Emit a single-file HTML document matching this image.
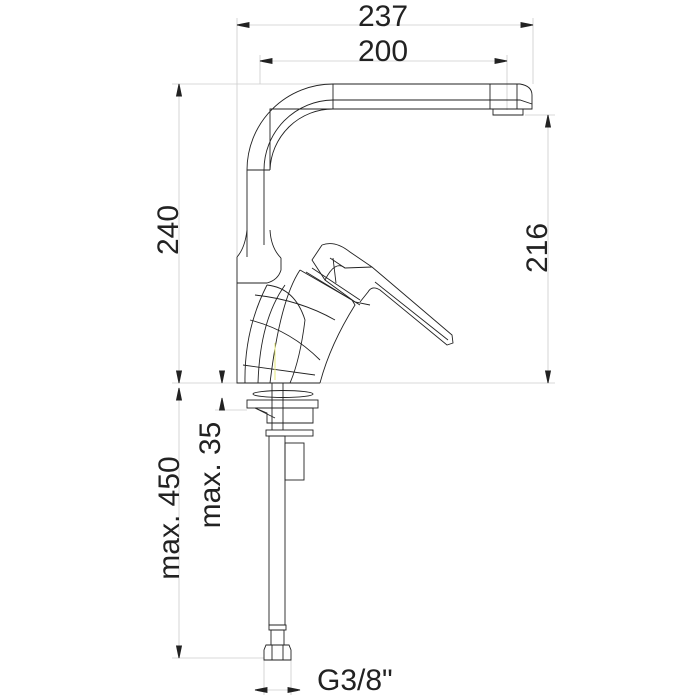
<!DOCTYPE html>
<html><head><meta charset="utf-8"><style>
html,body{margin:0;padding:0;background:#fff;}
svg{display:block}
text{font-family:"Liberation Sans",sans-serif;fill:#222}
</style></head><body>
<svg width="700" height="700" viewBox="0 0 700 700" xmlns="http://www.w3.org/2000/svg">
<g stroke="#ccc" stroke-width="0.8" fill="none">
<line x1="237" y1="18" x2="237" y2="257"/>
<line x1="533" y1="18" x2="533" y2="84"/>
<line x1="260" y1="55" x2="260" y2="84"/>
<line x1="507" y1="55" x2="507" y2="110"/>
<line x1="172" y1="84" x2="333" y2="84"/>
<line x1="172" y1="383" x2="237" y2="383"/>
<line x1="525" y1="115" x2="555" y2="115"/>
<line x1="320" y1="383" x2="555" y2="383"/>
<line x1="172" y1="658" x2="264" y2="658"/>
<line x1="215" y1="410" x2="247" y2="410"/>
<line x1="264" y1="660" x2="264" y2="695"/>
<line x1="291" y1="660" x2="291" y2="695"/>
<line x1="240" y1="25" x2="530" y2="25"/>
<line x1="263" y1="61" x2="504" y2="61"/>
<line x1="179" y1="87" x2="179" y2="380"/>
<line x1="548" y1="118" x2="548" y2="380"/>
<line x1="179" y1="388" x2="179" y2="655"/>
<line x1="267" y1="690" x2="288" y2="690"/>
</g>
<g stroke="#222" stroke-width="0.9" fill="none">
<path d="M237,25 l12,-2.5 v5z M533,25 l-12,-2.5 v5z" fill="#222"/>
<path d="M260,61 l12,-2.5 v5z M507,61 l-12,-2.5 v5z" fill="#222"/>
<path d="M179,84 l-2.5,12 h5z M179,383 l-2.5,-12 h5z" fill="#222"/>
<path d="M548,115 l-2.5,12 h5z M548,383 l-2.5,-12 h5z" fill="#222"/>
<path d="M179,388 l-2.5,12 h5z M179,658 l-2.5,-12 h5z" fill="#222"/>
<path d="M222,383 l-2.5,-12 h5z M222,398 l-2.5,12 h5z" fill="#222"/>
<path d="M255,690 l12,-2.5 v5z M300,690 l-12,-2.5 v5z" fill="#222"/>
<!-- spout -->
<path d="M247,257 L247,170 A86,86 0 0 1 333,84 L520,84 Q532,86 532,95 L532,109 L270,109 L270,170 A63,63 0 0 1 333,109"/>
<path d="M264,245 L264,170 A70,70 0 0 1 333,100 L520,100 L532,104"/>
<line x1="333" y1="84" x2="333" y2="109"/>
<line x1="490" y1="84" x2="490" y2="109"/>
<line x1="517" y1="84" x2="517" y2="109"/>
<line x1="247" y1="170" x2="270" y2="170"/>
<path d="M493,109 L493,115 L523,115 L523,109"/>
<path d="M247,230 Q245,248 237,257 M270,230 Q271,248 281,258"/>
<!-- body -->
<path d="M237,257 L237,383 L320,383"/>
<path d="M237,283 L267,283 Q278,280 281,270 L281,258"/>
<path d="M267,285 Q244,330 245,383"/>
<path d="M267,285 Q295,288 305,320 Q300,360 290,383"/>
<path d="M300,270 L352,300 L355,305 Q330,345 320,383"/>
<path d="M300,270 Q280,300 270,383"/>
<path d="M285,285 Q260,320 258,383"/>
<path d="M250,320 Q290,330 320,360"/>
<path d="M243,365 Q280,370 315,375"/>
<path d="M255,295 Q300,300 335,320"/>
<path d="M306,272 L360,305 M312,268 L360,300"/>
<!-- lever -->
<path d="M322,245 L312,260 L325,280 L355,302 L370,305"/>
<path d="M322,245 Q335,240 350,252 L372,267 L452,335 L453,343 L447,345 L380,290 Q372,285 368,292 L360,302"/>
<path d="M330,258 L345,268 L372,267"/>
<path d="M325,280 Q335,260 345,268"/>
<path d="M375,282 L448,340"/>
<line x1="333" y1="258" x2="336" y2="283"/>
<!-- under mount -->
<ellipse cx="283" cy="394" rx="30" ry="3.5"/>
<rect x="247" y="400" width="71" height="8"/>
<path d="M255,408 L313,408 L313,423 L267,423 L267,413 L255,408"/>
<path d="M255,408 L275,418"/>
<rect x="266" y="430" width="47" height="6"/>
<rect x="269" y="436" width="16" height="189"/>
<rect x="285" y="443" width="19" height="37"/>
<line x1="272" y1="383" x2="272" y2="430"/><line x1="283" y1="383" x2="283" y2="430"/>
<rect x="269" y="625" width="17" height="5"/>
<rect x="271" y="630" width="13" height="15"/>
<path d="M266,645 L289,645 L291,650 L291,660 L264,660 L264,650 Z"/>
<line x1="272" y1="645" x2="272" y2="660"/><line x1="283" y1="645" x2="283" y2="660"/>
</g>
<line x1="275" y1="343" x2="275" y2="380" stroke="#e6e87a" stroke-width="1"/>
<text x="383" y="26" font-size="30" text-anchor="middle">237</text>
<text x="383" y="61" font-size="30" text-anchor="middle">200</text>
<text transform="translate(178,230) rotate(-90)" font-size="30" text-anchor="middle">240</text>
<text transform="translate(547,248) rotate(-90)" font-size="30" text-anchor="middle">216</text>
<text transform="translate(179,518) rotate(-90)" font-size="30" text-anchor="middle">max. 450</text>
<text transform="translate(220,475) rotate(-90)" font-size="30" text-anchor="middle">max. 35</text>
<text x="317" y="690" font-size="30">G3/8"</text>
</svg>
</body></html>
